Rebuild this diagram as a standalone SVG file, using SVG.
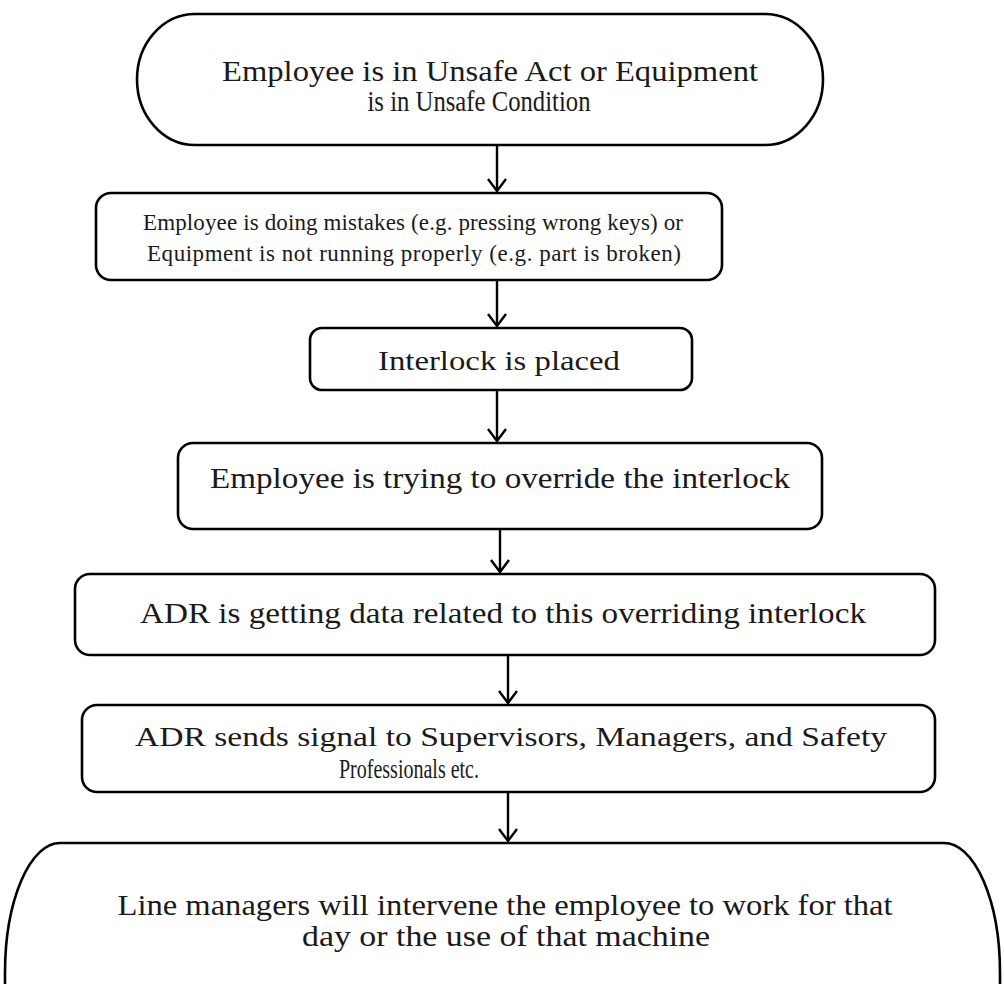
<svg xmlns="http://www.w3.org/2000/svg" width="1004" height="984" viewBox="0 0 1004 984">
  <style>
    .shape { fill: #ffffff; stroke: #000000; stroke-width: 2.6; }
    .label { font-family: "Liberation Serif", "Times New Roman", serif; fill: #1a1a1a; text-anchor: middle; }
    .tall { font-size: 30px; }
    .mid { font-size: 27px; }
    .wide { font-size: 23px; }
    .flow { stroke: #000000; stroke-width: 2.4; fill: none; marker-end: url(#openArrow); }
  </style>
  <defs>
    <marker id="openArrow" viewBox="0 0 14 20" markerWidth="14" markerHeight="20" refX="13" refY="10" orient="auto" markerUnits="userSpaceOnUse">
      <path d="M1,1 L13,10 L1,19" fill="none" stroke="#000000" stroke-width="2.4"/>
    </marker>
  </defs>
  <rect width="1004" height="984" fill="#ffffff"/>

  <!-- connectors -->
  <g id="connectors">
    <line class="flow" x1="497" y1="145" x2="497" y2="191"/>
    <line class="flow" x1="497" y1="280" x2="497" y2="326"/>
    <line class="flow" x1="497" y1="390" x2="497" y2="441"/>
    <line class="flow" x1="500" y1="529" x2="500" y2="572"/>
    <line class="flow" x1="508" y1="655" x2="508" y2="703"/>
    <line class="flow" x1="508" y1="792" x2="508" y2="841"/>
  </g>

  <!-- start terminal -->
  <g id="start">
    <path class="shape" d="M195,14 H765 A58,65.5 0 0 1 765,145 H195 A58,65.5 0 0 1 195,14 Z"/>
    <text class="label tall" x="490" y="81" textLength="536" lengthAdjust="spacingAndGlyphs">Employee is in Unsafe Act or Equipment</text>
    <text class="label tall" x="479" y="111" textLength="223" lengthAdjust="spacingAndGlyphs">is in Unsafe Condition</text>
  </g>

  <g id="mistakes">
    <rect class="shape" x="96" y="193" width="626" height="87" rx="15"/>
    <text class="label wide" x="413" y="230" textLength="540" lengthAdjust="spacing">Employee is doing mistakes (e.g. pressing wrong keys) or</text>
    <text class="label wide" x="414" y="261" textLength="534" lengthAdjust="spacing">Equipment is not running properly (e.g. part is broken)</text>
  </g>

  <g id="interlock">
    <rect class="shape" x="310" y="328" width="382" height="62" rx="12"/>
    <text class="label mid" x="499" y="370" textLength="242" lengthAdjust="spacingAndGlyphs">Interlock is placed</text>
  </g>

  <g id="override">
    <rect class="shape" x="178" y="443" width="644" height="86" rx="15"/>
    <text class="label tall" x="500" y="488" textLength="580" lengthAdjust="spacingAndGlyphs">Employee is trying to override the interlock</text>
  </g>

  <g id="adr-data">
    <rect class="shape" x="75" y="574" width="860" height="81" rx="15"/>
    <text class="label tall" x="503" y="623" textLength="726" lengthAdjust="spacingAndGlyphs">ADR is getting data related to this overriding interlock</text>
  </g>

  <g id="adr-signal">
    <rect class="shape" x="82" y="705" width="853" height="87" rx="15"/>
    <text class="label mid" x="511" y="746" textLength="752" lengthAdjust="spacingAndGlyphs">ADR sends signal to Supervisors, Managers, and Safety</text>
    <text class="label mid" x="339" y="778" style="text-anchor:start" textLength="140" lengthAdjust="spacingAndGlyphs">Professionals etc.</text>
  </g>

  <!-- end terminal, lower half runs past the page edge -->
  <g id="end">
    <path class="shape" d="M60,843 H944 A56,130 0 0 1 1000,973 V1200 H5 V973 A55,130 0 0 1 60,843 Z"/>
    <text class="label tall" x="505" y="915" textLength="775" lengthAdjust="spacingAndGlyphs">Line managers will intervene the employee to work for that</text>
    <text class="label tall" x="506" y="946" textLength="408" lengthAdjust="spacingAndGlyphs">day or the use of that machine</text>
  </g>
</svg>
